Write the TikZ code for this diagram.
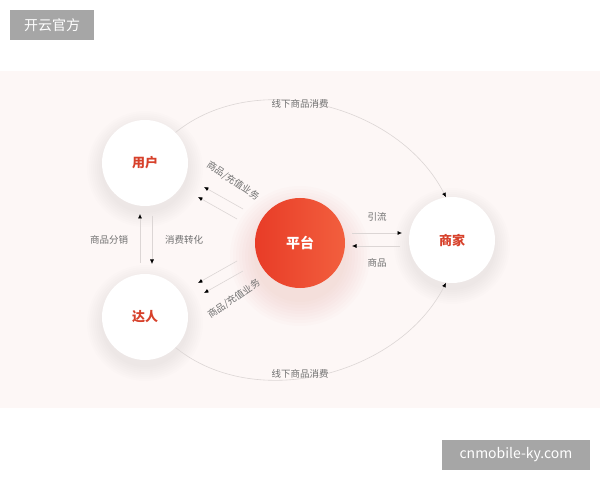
\documentclass[tikz,border=0pt]{standalone}
\usepackage{fontspec}
\setmainfont{Noto Sans CJK SC}
\usetikzlibrary{arrows.meta}

\definecolor{bgpink}{HTML}{FDF7F6}
\definecolor{txtred}{HTML}{D7412B}
\definecolor{ptred}{HTML}{E83C27}
\definecolor{ptlight}{HTML}{F25F3E}
\definecolor{labgray}{HTML}{707070}
\definecolor{linegray}{HTML}{DCD6D5}
\definecolor{wmgray}{HTML}{A6A6A6}

\begin{document}
\begin{tikzpicture}[x=1pt,y=1pt,
  round/.style={circle,fill=white,minimum size=86pt,inner sep=0pt,text=txtred,
    font=\bfseries\fontsize{13}{13}\selectfont},
  tag/.style={text=labgray,font=\fontsize{9.5}{9.5}\selectfont,inner sep=0pt},
  flow/.style={draw=linegray,line width=.6pt,-{Latex[length=4.5pt,width=4pt,color=black]}},
  wmbox/.style={fill=wmgray,text=white,font=\fontsize{14}{14}\selectfont,
    inner sep=0pt,minimum height=30pt}]
\useasboundingbox (0,0) rectangle (600,480);
\fill[white] (0,0) rectangle (600,480);
\fill[bgpink] (0,72) rectangle (600,409);

\node[wmbox,minimum width=84pt] (wmtop) at (52,455) {开云官方};
\node[wmbox,minimum width=148pt] (wmbot) at (516,25) {cnmobile-ky.com};

\foreach \r in {44,46,...,58} \fill[black,opacity=.007] (145,311) circle (\r);
\foreach \r in {44,46,...,58} \fill[black,opacity=.007] (145,157) circle (\r);
\foreach \r in {44,46,...,58} \fill[black,opacity=.007] (452,234) circle (\r);
\foreach \r in {46,49,...,70} \fill[ptred,opacity=.011] (300,224) circle (\r);

\node[round] (yh) at (145,317) {用户};
\node[round] (dr) at (145,163) {达人};
\node[round] (sj) at (452,240) {商家};
\node[circle,minimum size=90pt,inner sep=0pt,shading=axis,shading angle=45,
  left color=ptred,right color=ptlight,text=white,
  font=\bfseries\fontsize{14}{14}\selectfont] (pt) at (300,237) {平台};

\draw[flow] (yh.45) to[out=39,in=117,looseness=.95] (sj.98);
\draw[flow] (dr.-45) to[out=-39,in=-117,looseness=.95] (sj.-98);
\node[tag] (xs1) at (300,376) {线下商品消费};
\node[tag] (xs2) at (300,106) {线下商品消费};

\coordinate (a1) at (243,271);
\coordinate (a2) at (204,293);
\coordinate (b1) at (237,261);
\coordinate (b2) at (198,283);
\draw[flow] (a1)--(a2);
\draw[flow] (b1)--(b2);
\node[tag,rotate=-34] (cz1) at (233,299) {商品/充值业务};

\coordinate (c1) at (237,219);
\coordinate (c2) at (198,197);
\coordinate (d1) at (243,209);
\coordinate (d2) at (204,187);
\draw[flow] (c1)--(c2);
\draw[flow] (d1)--(d2);
\node[tag,rotate=34] (cz2) at (234,181) {商品/充值业务};

\coordinate (e1) at (140,217);
\coordinate (e2) at (140,266);
\coordinate (f1) at (152,264);
\coordinate (f2) at (152,216);
\draw[flow] (e1)--(e2);
\draw[flow] (f1)--(f2);
\node[tag] (fx) at (109,240) {商品分销};
\node[tag] (zh) at (184,240) {消费转化};

\coordinate (g1) at (352,247);
\coordinate (g2) at (402,247);
\coordinate (h1) at (400,234);
\coordinate (h2) at (352,234);
\draw[flow] (g1)--(g2);
\draw[flow] (h1)--(h2);
\node[tag] (yl) at (377,263) {引流};
\node[tag] (sp) at (377,217) {商品};
\end{tikzpicture}
\end{document}
